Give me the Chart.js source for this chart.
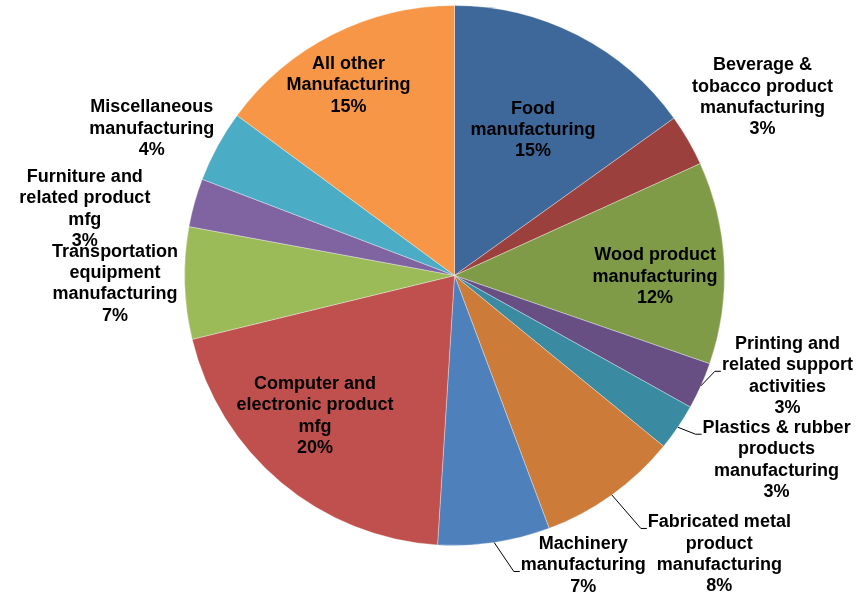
<!DOCTYPE html>
<html>
<head>
<meta charset="utf-8">
<script src="https://cdn.jsdelivr.net/npm/chart.js@4.4.1/dist/chart.umd.min.js"></script>
<style>
  html, body { margin: 0; padding: 0; background: #fff; }
  #wrap { width: 868px; height: 595px; }
</style>
</head>
<body>
<div id="wrap"><canvas id="industryPie" width="868" height="595"></canvas></div>
<script>
// slices, clockwise from 12 o'clock
var categories = [
    "Food\nmanufacturing",
    "Beverage &\ntobacco product\nmanufacturing",
    "Wood product\nmanufacturing",
    "Printing and\nrelated support\nactivities",
    "Plastics & rubber\nproducts\nmanufacturing",
    "Fabricated metal\nproduct\nmanufacturing",
    "Machinery\nmanufacturing",
    "Computer and\nelectronic product\nmfg",
    "Transportation\nequipment\nmanufacturing",
    "Furniture and\nrelated product\nmfg",
    "Miscellaneous\nmanufacturing",
    "All other\nManufacturing"
];
var shares = [15.1, 3.1, 12.1, 2.8, 2.8, 8.4, 6.7, 20.2, 6.7, 2.9, 4.3, 14.9];

var sliceColors = ['#3F689A', '#9C403D', '#7F9B48', '#674F84', '#3A8BA2', '#CD7B38',
                   '#4E80BC', '#C0504D', '#9BBB59', '#8064A2', '#4BACC6', '#F79646'];

// label block centres, in units of the pie radius from the pie centre
// leader: index of the text line the leader line points at (-1 = none)
var labelSpots = [
    {x: 0.291, y: -0.539, leader: -1},
    {x: 1.141, y: -0.660, leader: -1},
    {x: 0.743, y: 0.004, leader: -1},
    {x: 1.233, y: 0.372, leader: 1},
    {x: 1.193, y: 0.684, leader: 0},
    {x: 0.981, y: 1.033, leader: 0},
    {x: 0.477, y: 1.074, leader: 1},
    {x: -0.517, y: 0.521, leader: -1},
    {x: -1.257, y: 0.030, leader: -1},
    {x: -1.369, y: -0.246, leader: -1},
    {x: -1.121, y: -0.544, leader: -1},
    {x: -0.393, y: -0.704, leader: -1}
];

var pieLabels = {
    id: 'pieLabels',
    afterDatasetsDraw: function(chart) {
        var ctx = chart.ctx;
        var meta = chart.getDatasetMeta(0);
        var values = chart.data.datasets[0].data;
        var total = values.reduce(function(a, b) { return a + b; }, 0);
        var lineH = 21.3;

        ctx.save();
        ctx.font = 'bold 18px "Liberation Sans", Arial, sans-serif';
        ctx.textAlign = 'center';
        ctx.textBaseline = 'middle';
        ctx.fillStyle = '#000';
        ctx.strokeStyle = '#000';
        ctx.lineWidth = 1;

        meta.data.forEach(function(arc, i) {
            var p = arc.getProps(['x', 'y', 'startAngle', 'endAngle', 'outerRadius'], true);
            var spot = labelSpots[i];
            var lines = chart.data.labels[i].split('\n');
            lines.push(Math.round(values[i] / total * 100) + '%');

            var lx = p.x + spot.x * p.outerRadius;
            var ly = p.y + spot.y * p.outerRadius;
            var top = ly - (lines.length - 1) / 2 * lineH;

            if (spot.leader >= 0) {
                var mid = (p.startAngle + p.endAngle) / 2;
                var sx = p.x + Math.cos(mid) * p.outerRadius;
                var sy = p.y + Math.sin(mid) * p.outerRadius;
                var maxW = 0;
                lines.forEach(function(t) { maxW = Math.max(maxW, ctx.measureText(t).width); });
                var ex = lx - maxW / 2 - 1;
                var ey = top + spot.leader * lineH + 6;
                ctx.beginPath();
                ctx.moveTo(sx, sy);
                ctx.lineTo(ex - 6, ey);
                ctx.lineTo(ex, ey);
                ctx.stroke();
            }

            lines.forEach(function(t, k) {
                ctx.fillText(t, lx, top + k * lineH);
            });
        });
        ctx.restore();
    }
};

var industryPie = new Chart(document.getElementById('industryPie'), {
    type: 'pie',
    data: {
        labels: categories,
        datasets: [{
            data: shares,
            backgroundColor: sliceColors,
            borderColor: 'rgba(255,255,255,0.45)',
            borderWidth: 0.75
        }]
    },
    options: {
        responsive: false,
        animation: false,
        radius: 270,
        layout: {
            padding: {left: 184, right: 143, top: 5, bottom: 49}
        },
        plugins: {
            legend: {display: false},
            tooltip: {enabled: false}
        }
    },
    plugins: [pieLabels]
});
</script>
</body>
</html>
